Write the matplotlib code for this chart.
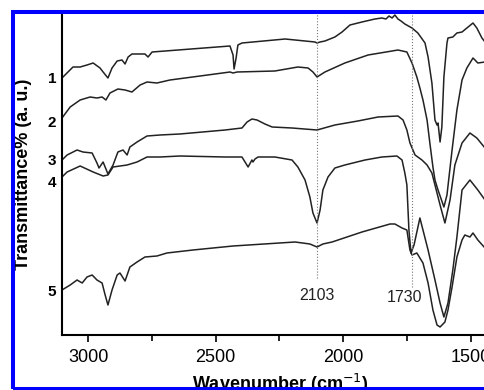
import numpy as np
import matplotlib
matplotlib.use("Agg")
import matplotlib.pyplot as plt

plt.rcParams['font.family'] = ['Liberation Sans', 'DejaVu Sans']

# FTIR spectra (wavenumber in cm-1, transmittance in a.u., curves already offset)
wn_1 = [3102, 3059, 3031, 3004, 2980, 2953, 2941, 2922, 2906, 2886, 2867, 2855, 2843, 2828, 2777, 2765,
        2749, 2444, 2432, 2428, 2420, 2413, 2397, 2228, 2111, 2103, 2091, 2072, 2033, 2005, 1974, 1927,
        1876, 1849, 1833, 1821, 1809, 1798, 1786, 1774, 1759, 1731, 1708, 1680, 1668, 1653, 1641, 1633,
        1629, 1621, 1614, 1606, 1594, 1590, 1571, 1555, 1535, 1516, 1492, 1477, 1457, 1445]
t_1 = [257, 268, 268, 270, 272, 267, 263, 257, 267, 274, 275, 271, 278, 281, 281, 278,
       283, 289, 280, 266, 277, 290, 292, 296, 293, 292, 293, 294, 298, 303, 310, 313,
       316, 317, 316, 319, 317, 320, 316, 314, 311, 307, 302, 292, 278, 252, 215, 210,
       212, 193, 208, 258, 292, 297, 298, 302, 303, 307, 312, 307, 297, 293]

wn_2 = [3102, 3070, 3031, 2992, 2965, 2945, 2930, 2914, 2883, 2855, 2828, 2796, 2769, 2730, 2679, 2561,
        2444, 2432, 2416, 2268, 2178, 2138, 2119, 2103, 2072, 1994, 1903, 1809, 1786, 1751, 1731, 1712,
        1700, 1688, 1672, 1661, 1649, 1641, 1629, 1606, 1594, 1574, 1555, 1535, 1516, 1492, 1473, 1445]
t_2 = [217, 228, 235, 238, 237, 238, 235, 242, 246, 245, 243, 250, 253, 252, 255, 259,
       263, 262, 263, 264, 268, 267, 263, 258, 263, 272, 280, 284, 285, 283, 272, 258,
       247, 235, 215, 192, 168, 155, 145, 128, 140, 185, 225, 255, 267, 277, 272, 273]

wn_3 = [3102, 3082, 3043, 3020, 2984, 2965, 2957, 2941, 2922, 2902, 2883, 2863, 2847, 2836, 2808, 2769,
        2718, 2640, 2463, 2397, 2377, 2358, 2338, 2307, 2279, 2201, 2103, 2033, 1943, 1864, 1786, 1766,
        1751, 1739, 1719, 1692, 1672, 1653, 1641, 1621, 1602, 1582, 1563, 1535, 1504, 1477, 1445]
t_3 = [175, 180, 185, 183, 182, 172, 167, 173, 161, 170, 183, 185, 180, 188, 193, 199,
       200, 201, 205, 207, 213, 216, 215, 211, 208, 207, 205, 210, 214, 218, 219, 215,
       205, 192, 180, 175, 170, 162, 150, 130, 112, 135, 170, 192, 202, 197, 187]

wn_4 = [3102, 3082, 3031, 2980, 2941, 2922, 2902, 2847, 2808, 2769, 2718, 2640, 2463, 2397, 2385, 2373,
        2358, 2354, 2346, 2334, 2268, 2201, 2178, 2150, 2131, 2119, 2103, 2091, 2080, 2060, 2033, 1994,
        1915, 1849, 1790, 1770, 1759, 1751, 1743, 1735, 1723, 1700, 1668, 1641, 1621, 1606, 1590, 1571,
        1555, 1535, 1504, 1473, 1445]
t_4 = [158, 163, 169, 163, 159, 160, 168, 170, 173, 178, 178, 179, 178, 178, 173, 168,
       175, 173, 176, 178, 178, 175, 168, 155, 138, 122, 112, 125, 145, 158, 167, 170,
       175, 178, 179, 175, 162, 150, 105, 82, 90, 117, 85, 55, 32, 18, 32, 65,
       98, 145, 155, 145, 135]

wn_5 = [3102, 3070, 3043, 3023, 3004, 2984, 2965, 2945, 2933, 2922, 2906, 2886, 2875, 2855, 2836, 2808,
        2777, 2730, 2691, 2589, 2432, 2189, 2131, 2103, 2080, 2044, 1927, 1817, 1798, 1770, 1751, 1739,
        1731, 1712, 1688, 1668, 1649, 1633, 1621, 1602, 1590, 1574, 1555, 1535, 1524, 1504, 1492, 1473,
        1445]
t_5 = [45, 50, 55, 52, 58, 60, 55, 52, 40, 30, 45, 60, 62, 54, 68, 73,
       78, 79, 82, 85, 89, 93, 91, 88, 91, 93, 103, 111, 111, 107, 105, 85,
       80, 82, 72, 52, 25, 10, 8, 13, 25, 48, 78, 95, 100, 98, 102, 95,
       87]

curve_labels = ['1', '2', '3', '4', '5']
label_y = [256, 212, 174, 152, 43]

marked_peaks = [2103, 1730]
peak_line_bottom = [57, 48]
peak_text_x = [2103, 1759]
peak_text_y = [40, 37]

fig = plt.figure(figsize=(4.85, 3.9), dpi=100)
ax = fig.add_axes([62 / 485, 55 / 390, 1 - 62 / 485, 321 / 390])

for wn, t in [(wn_1, t_1), (wn_2, t_2), (wn_3, t_3), (wn_4, t_4), (wn_5, t_5)]:
    ax.plot(wn, t, color='#222222', lw=1.1)

# dotted marker lines for the two bands
for p, yb in zip(marked_peaks, peak_line_bottom):
    ax.plot([p, p], [yb, 321], color='#777777', lw=0.8, ls=':')
for p, x, y in zip(marked_peaks, peak_text_x, peak_text_y):
    ax.text(x, y, str(p), ha='center', va='center', fontsize=11.5, color='#222222')

# curve numbers left of the axis
for lab, y in zip(curve_labels, label_y):
    ax.text(3141, y, lab, ha='center', va='center', fontsize=11, fontweight='bold', clip_on=False)

ax.set_xlim(3102, 1445)
ax.set_ylim(0, 321)
ax.set_xticks([3000, 2500, 2000, 1500])
ax.set_xticks([2750, 2250, 1750], minor=True)
ax.set_yticks([])
ax.tick_params(axis='x', which='major', direction='out', length=5, width=1.2, labelsize=13, pad=5)
ax.tick_params(axis='x', which='minor', direction='out', length=4, width=1.2)
ax.spines['top'].set_visible(False)
ax.spines['right'].set_visible(False)
ax.spines['left'].set_linewidth(1.5)
ax.spines['bottom'].set_linewidth(1.5)

fig.text(24 / 485, (390 - 174) / 390, 'Transmittance% (a. u.)', rotation=90, ha='center', va='center',
         fontsize=13, fontweight='bold')
fig.text(280 / 485, 0.5 / 390, 'Wavenumber (cm$^{-1}$)', ha='center', va='baseline',
         fontsize=13, fontweight='bold')

# blue frame (right side is cropped in the original)
frame = plt.Rectangle((13 / 485, 1.5 / 390), 1.2, (390 - 12 - 1.5) / 390, transform=fig.transFigure,
                      fill=False, edgecolor='#0000ff', lw=2.9, zorder=10)
fig.add_artist(frame)

plt.savefig('out.png', dpi=100)
